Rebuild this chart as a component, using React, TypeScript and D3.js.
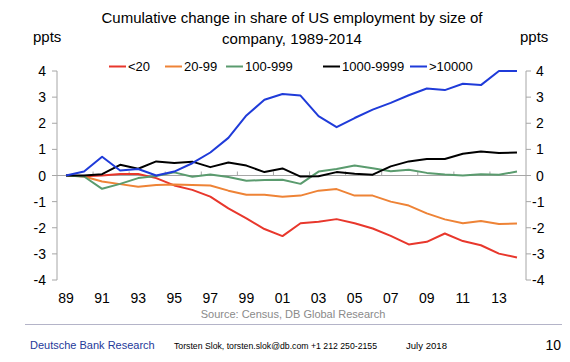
import React, { useEffect, useRef } from 'react';
import * as d3 from 'd3';

const years = d3.range(1989, 2015);
const xLabels = ['89', '91', '93', '95', '97', '99', '01', '03', '05', '07', '09', '11', '13'];
const yTicks = [-4, -3, -2, -1, 0, 1, 2, 3, 4];

const under20 = [0, -0.03, 0, 0.06, 0.06, -0.1, -0.38, -0.55, -0.81, -1.26, -1.64, -2.05, -2.32,
  -1.83, -1.77, -1.67, -1.83, -2.03, -2.31, -2.64, -2.54, -2.22, -2.51, -2.67, -2.99, -3.14];
const from20to99 = [0, -0.04, -0.23, -0.33, -0.43, -0.36, -0.34, -0.36, -0.38, -0.58, -0.74, -0.74, -0.81,
  -0.77, -0.58, -0.52, -0.77, -0.77, -1.0, -1.15, -1.45, -1.68, -1.83, -1.74, -1.86, -1.84];
const from100to999 = [0, -0.04, -0.51, -0.32, -0.1, -0.02, 0.12, -0.05, 0.04, -0.06, -0.2, -0.17, -0.16,
  -0.32, 0.15, 0.25, 0.38, 0.28, 0.16, 0.22, 0.1, 0.04, 0.0, 0.05, 0.03, 0.15];
const from1000to9999 = [0, 0.0, 0.05, 0.41, 0.26, 0.54, 0.48, 0.53, 0.32, 0.5, 0.38, 0.13, 0.27,
  -0.04, -0.03, 0.13, 0.07, 0.03, 0.35, 0.54, 0.63, 0.63, 0.83, 0.92, 0.86, 0.88];
const over10000 = [0, 0.15, 0.72, 0.19, 0.25, 0.0, 0.15, 0.47, 0.88, 1.44, 2.3, 2.9, 3.12,
  3.06, 2.27, 1.85, 2.2, 2.52, 2.78, 3.07, 3.33, 3.27, 3.51, 3.46, 4.0, 4.0];

const seriesNames = ['<20', '20-99', '100-999', '1000-9999', '>10000'];
const seriesValues = [under20, from20to99, from100to999, from1000to9999, over10000];
const seriesColors = ['#e8372c', '#ee8336', '#5a9b6e', '#000000', '#1f3bd9'];

const FONT = '"Liberation Sans", Arial, sans-serif';

const Chart = () => {
  const svgRef = useRef(null);

  useEffect(() => {
    const svg = d3.select(svgRef.current);
    svg.selectAll('*').remove();

    const left = 57;
    const right = 526;
    const top = 71;
    const bottom = 280;
    const axisColor = '#a6a6a6';

    const x = d3.scalePoint<number>().domain(years).range([left, right]).padding(0.5);
    const y = d3.scaleLinear().domain([-4, 4]).range([bottom, top]);
    const step = x.step();

    // title
    const title = svg.append('text')
      .attr('font-family', FONT)
      .attr('font-size', 15)
      .attr('text-anchor', 'middle')
      .attr('fill', '#000');
    title.append('tspan').attr('x', 292).attr('y', 23)
      .text('Cumulative change in share of US employment by size of');
    title.append('tspan').attr('x', 292).attr('y', 44)
      .text('company, 1989-2014');

    // unit labels
    svg.append('text').attr('x', 33).attr('y', 42)
      .attr('font-family', FONT).attr('font-size', 15).text('ppts');
    svg.append('text').attr('x', 520).attr('y', 42)
      .attr('font-family', FONT).attr('font-size', 15).text('ppts');

    // legend
    const legendX = [109, 165, 226, 323, 410];
    const legendY = 66.5;
    const lg = svg.append('g');
    seriesNames.forEach((name, i) => {
      lg.append('line')
        .attr('x1', legendX[i]).attr('x2', legendX[i] + 17)
        .attr('y1', legendY).attr('y2', legendY)
        .attr('stroke', seriesColors[i]).attr('stroke-width', 2);
      lg.append('text')
        .attr('x', legendX[i] + 19).attr('y', legendY + 4.5)
        .attr('font-family', FONT).attr('font-size', 13)
        .text(name);
    });

    // left axis
    const gL = svg.append('g');
    gL.append('line').attr('x1', left).attr('x2', left).attr('y1', top).attr('y2', bottom)
      .attr('stroke', axisColor);
    gL.selectAll('line.tick').data(yTicks).enter().append('line')
      .attr('class', 'tick')
      .attr('x1', left - 5).attr('x2', left)
      .attr('y1', d => y(d)).attr('y2', d => y(d))
      .attr('stroke', axisColor);
    gL.selectAll('text').data(yTicks).enter().append('text')
      .attr('x', 46).attr('y', d => y(d) + 5)
      .attr('text-anchor', 'end')
      .attr('font-family', FONT).attr('font-size', 14)
      .text(d => d);

    // right axis
    const gR = svg.append('g');
    gR.append('line').attr('x1', right).attr('x2', right).attr('y1', top).attr('y2', bottom)
      .attr('stroke', axisColor);
    gR.selectAll('line.tick').data(yTicks).enter().append('line')
      .attr('class', 'tick')
      .attr('x1', right).attr('x2', right + 5)
      .attr('y1', d => y(d)).attr('y2', d => y(d))
      .attr('stroke', axisColor);
    gR.selectAll('text').data(yTicks).enter().append('text')
      .attr('x', d => (d < 0 ? 532 : 536)).attr('y', d => y(d) + 5)
      .attr('font-family', FONT).attr('font-size', 14)
      .text(d => d);

    // horizontal axis at zero
    const gX = svg.append('g');
    gX.append('line').attr('x1', left).attr('x2', right).attr('y1', y(0)).attr('y2', y(0))
      .attr('stroke', axisColor);
    const boundaries = d3.range(2, years.length, 2).map(k => left + k * step);
    gX.selectAll('line.tick').data(boundaries).enter().append('line')
      .attr('class', 'tick')
      .attr('x1', d => d).attr('x2', d => d)
      .attr('y1', y(0) - 4).attr('y2', y(0))
      .attr('stroke', axisColor);
    const labelYears = years.filter(yr => yr % 2 === 1);
    gX.selectAll('text').data(labelYears).enter().append('text')
      .attr('x', d => x(d)).attr('y', 303)
      .attr('text-anchor', 'middle')
      .attr('font-family', FONT).attr('font-size', 14)
      .text((d, i) => xLabels[i]);

    // lines
    const line = d3.line<number>()
      .x((d, i) => x(years[i]))
      .y(d => y(d));
    seriesValues.forEach((vals, i) => {
      svg.append('path')
        .datum(vals)
        .attr('fill', 'none')
        .attr('stroke', seriesColors[i])
        .attr('stroke-width', 2)
        .attr('stroke-linejoin', 'round')
        .attr('d', line);
    });

    // footer
    svg.append('text').attr('x', 293).attr('y', 318)
      .attr('text-anchor', 'middle')
      .attr('font-family', FONT).attr('font-size', 11).attr('fill', '#8a8a8a')
      .text('Source: Census, DB Global Research');
    svg.append('line').attr('x1', 25).attr('x2', 562).attr('y1', 324.5).attr('y2', 324.5)
      .attr('stroke', '#b4b4c8');
    svg.append('text').attr('x', 30).attr('y', 349)
      .attr('font-family', FONT).attr('font-size', 11).attr('fill', '#24399a')
      .text('Deutsche Bank Research');
    svg.append('text').attr('x', 174).attr('y', 349)
      .attr('font-family', FONT).attr('font-size', 9.5)
      .attr('textLength', 203).attr('lengthAdjust', 'spacingAndGlyphs')
      .text('Torsten Slok, torsten.slok@db.com  +1 212 250-2155');
    svg.append('text').attr('x', 406).attr('y', 349)
      .attr('font-family', FONT).attr('font-size', 9.5)
      .attr('textLength', 41).attr('lengthAdjust', 'spacingAndGlyphs')
      .text('July 2018');
    svg.append('text').attr('x', 561).attr('y', 350)
      .attr('text-anchor', 'end')
      .attr('font-family', FONT).attr('font-size', 14)
      .text('10');
  }, []);

  return <svg ref={svgRef} width={570} height={362} style={{ display: 'block' }}></svg>;
};

export default function App() {
  return (
    <div style={{ position: 'absolute', left: 0, top: 0, background: '#fff' }}>
      <Chart />
    </div>
  );
}
